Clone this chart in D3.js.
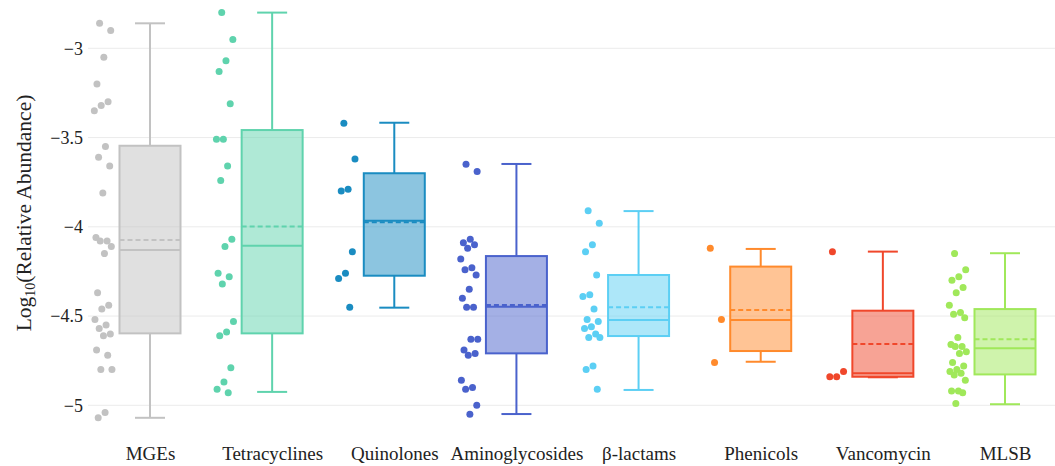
<!DOCTYPE html>
<html>
<head>
<meta charset="utf-8">
<script src="https://cdn.jsdelivr.net/npm/d3@7"></script>
<style>
  html, body { margin: 0; padding: 0; background: #fff; }
  svg { display: block; }
  svg text { font-family: "Liberation Serif", "DejaVu Serif", serif !important; fill: #222; }
</style>
</head>
<body>
<svg id="chart" width="1055" height="466"></svg>
<script>
// Gene classes along the x axis
const categories = ["MGEs", "Tetracyclines", "Quinolones", "Aminoglycosides", "β-lactams", "Phenicols", "Vancomycin", "MLSB"];
const colors = ["#c2c2c2", "#5fd3ad", "#1a8cc1", "#4a62cc", "#5ccff4", "#ff8a2c", "#f0472b", "#a0e85a"];

// Per-sample log10 relative abundance, one list per class
const mgesValues = [-2.86, -2.90, -3.05, -3.20, -3.30, -3.32, -3.35, -3.55, -3.61, -3.66, -3.81, -4.06, -4.08, -4.08, -4.11, -4.15, -4.37, -4.44, -4.46, -4.52, -4.55, -4.57, -4.60, -4.61, -4.69, -4.72, -4.80, -4.80, -5.04, -5.07];
const tetracyclineValues = [-2.80, -2.95, -3.07, -3.13, -3.31, -3.51, -3.51, -3.66, -3.74, -4.07, -4.11, -4.26, -4.28, -4.32, -4.53, -4.59, -4.61, -4.79, -4.87, -4.91, -4.93];
const quinoloneValues = [-3.42, -3.62, -3.79, -3.80, -4.14, -4.26, -4.29, -4.45];
const aminoglycosideValues = [-3.65, -3.69, -4.07, -4.09, -4.10, -4.12, -4.18, -4.23, -4.24, -4.27, -4.35, -4.40, -4.45, -4.45, -4.63, -4.63, -4.69, -4.71, -4.72, -4.86, -4.90, -4.91, -5.00, -5.05];
const betaLactamValues = [-3.91, -3.98, -4.10, -4.14, -4.27, -4.38, -4.39, -4.46, -4.52, -4.53, -4.56, -4.57, -4.60, -4.62, -4.62, -4.78, -4.80, -4.91];
const phenicolValues = [-4.12, -4.52, -4.76];
const vancomycinValues = [-4.14, -4.81, -4.84, -4.84];
const mlsbValues = [-4.15, -4.24, -4.28, -4.30, -4.34, -4.37, -4.44, -4.48, -4.49, -4.51, -4.62, -4.66, -4.67, -4.67, -4.70, -4.71, -4.76, -4.78, -4.80, -4.81, -4.82, -4.83, -4.86, -4.92, -4.92, -4.93, -4.99];
const seriesValues = [mgesValues, tetracyclineValues, quinoloneValues, aminoglycosideValues, betaLactamValues, phenicolValues, vancomycinValues, mlsbValues];

// Box summaries per class
const lowerFence = [-5.07, -4.925, -4.453, -5.049, -4.914, -4.756, -4.843, -4.994];
const q1 = [-4.597, -4.597, -4.274, -4.709, -4.612, -4.696, -4.84, -4.827];
const median = [-4.13, -4.106, -3.966, -4.448, -4.522, -4.522, -4.821, -4.681];
const mean = [-4.074, -3.999, -3.975, -4.438, -4.451, -4.466, -4.657, -4.63];
const q3 = [-3.546, -3.458, -3.70, -4.164, -4.27, -4.223, -4.47, -4.461];
const upperFence = [-2.86, -2.80, -3.417, -3.648, -3.912, -4.124, -4.139, -4.148];

// Y axis ticks
const yTicks = [-3, -3.5, -4, -4.5, -5];
const yTickLabels = ["\u22123", "\u22123.5", "\u22124", "\u22124.5", "\u22125"];

const svg = d3.select("#chart");
const W = 1055, H = 466;
const plotLeft = 88, plotRight = W;
const serif = "'Liberation Serif', 'DejaVu Serif', serif";

const x = d3.scalePoint().domain(categories).range([150, 1005]);
const y = d3.scaleLinear().domain([-3, -5]).range([48.3, 405.3]);

const boxW = 61, capW = 30, pointOffset = -47, jitterW = 9;

// Horizontal gridlines
svg.append("g").selectAll("line").data(yTicks).join("line")
  .attr("x1", plotLeft).attr("x2", plotRight)
  .attr("y1", d => y(d)).attr("y2", d => y(d))
  .attr("stroke", "#ececec").attr("stroke-width", 1);

// Y axis tick labels
const yAxis = d3.axisLeft(y).tickValues(yTicks)
  .tickFormat((d, i) => yTickLabels[i]).tickSize(0).tickPadding(5);
const yg = svg.append("g").attr("transform", `translate(${plotLeft},0)`).call(yAxis)
  .attr("font-family", serif).attr("font-size", 18);
yg.select(".domain").remove();
yg.selectAll("text").attr("fill", "#222");

// X axis category labels
const xAxis = d3.axisBottom(x).tickSize(0).tickPadding(0);
const xg = svg.append("g").attr("transform", `translate(0,446)`).call(xAxis)
  .attr("font-family", serif).attr("font-size", 19);
xg.select(".domain").remove();
xg.selectAll("text").attr("fill", "#222").attr("dy", "0.72em");

// Y axis title with subscript
const title = svg.append("text")
  .attr("transform", `translate(31,${213}) rotate(-90)`)
  .attr("text-anchor", "middle")
  .attr("font-size", 21.5);
title.append("tspan").text("Log");
title.append("tspan").text("10").attr("baseline-shift", "-25%").attr("font-size", 14);
title.append("tspan").text("(Relative Abundance)");

// Deterministic jitter pattern for the sample points
function jitter(i) {
  const f = (i * 0.61803398875 + 0.31) % 1;
  return (f - 0.5) * 2 * jitterW;
}

categories.forEach((cat, i) => {
  const cx = x(cat);
  const col = colors[i];
  const g = svg.append("g");

  // Whiskers
  g.append("line").attr("x1", cx).attr("x2", cx).attr("y1", y(q3[i])).attr("y2", y(upperFence[i]))
    .attr("stroke", col).attr("stroke-width", 2);
  g.append("line").attr("x1", cx).attr("x2", cx).attr("y1", y(q1[i])).attr("y2", y(lowerFence[i]))
    .attr("stroke", col).attr("stroke-width", 2);
  [upperFence[i], lowerFence[i]].forEach(v => {
    g.append("line").attr("x1", cx - capW / 2).attr("x2", cx + capW / 2).attr("y1", y(v)).attr("y2", y(v))
      .attr("stroke", col).attr("stroke-width", 2);
  });

  // Box
  g.append("rect")
    .attr("x", cx - boxW / 2).attr("width", boxW)
    .attr("y", y(q3[i])).attr("height", y(q1[i]) - y(q3[i]))
    .attr("fill", col).attr("fill-opacity", 0.5)
    .attr("stroke", col).attr("stroke-width", 2);

  // Median
  g.append("line").attr("x1", cx - boxW / 2).attr("x2", cx + boxW / 2)
    .attr("y1", y(median[i])).attr("y2", y(median[i]))
    .attr("stroke", col).attr("stroke-width", 2);

  // Mean (dashed)
  g.append("line").attr("x1", cx - boxW / 2).attr("x2", cx + boxW / 2)
    .attr("y1", y(mean[i])).attr("y2", y(mean[i]))
    .attr("stroke", col).attr("stroke-width", 2).attr("stroke-dasharray", "5,3");

  // Sample points
  g.selectAll("circle").data(seriesValues[i]).join("circle")
    .attr("cx", (d, j) => cx + pointOffset + jitter(j))
    .attr("cy", d => y(d))
    .attr("r", 3.5)
    .attr("fill", col);
});
</script>
</body>
</html>
